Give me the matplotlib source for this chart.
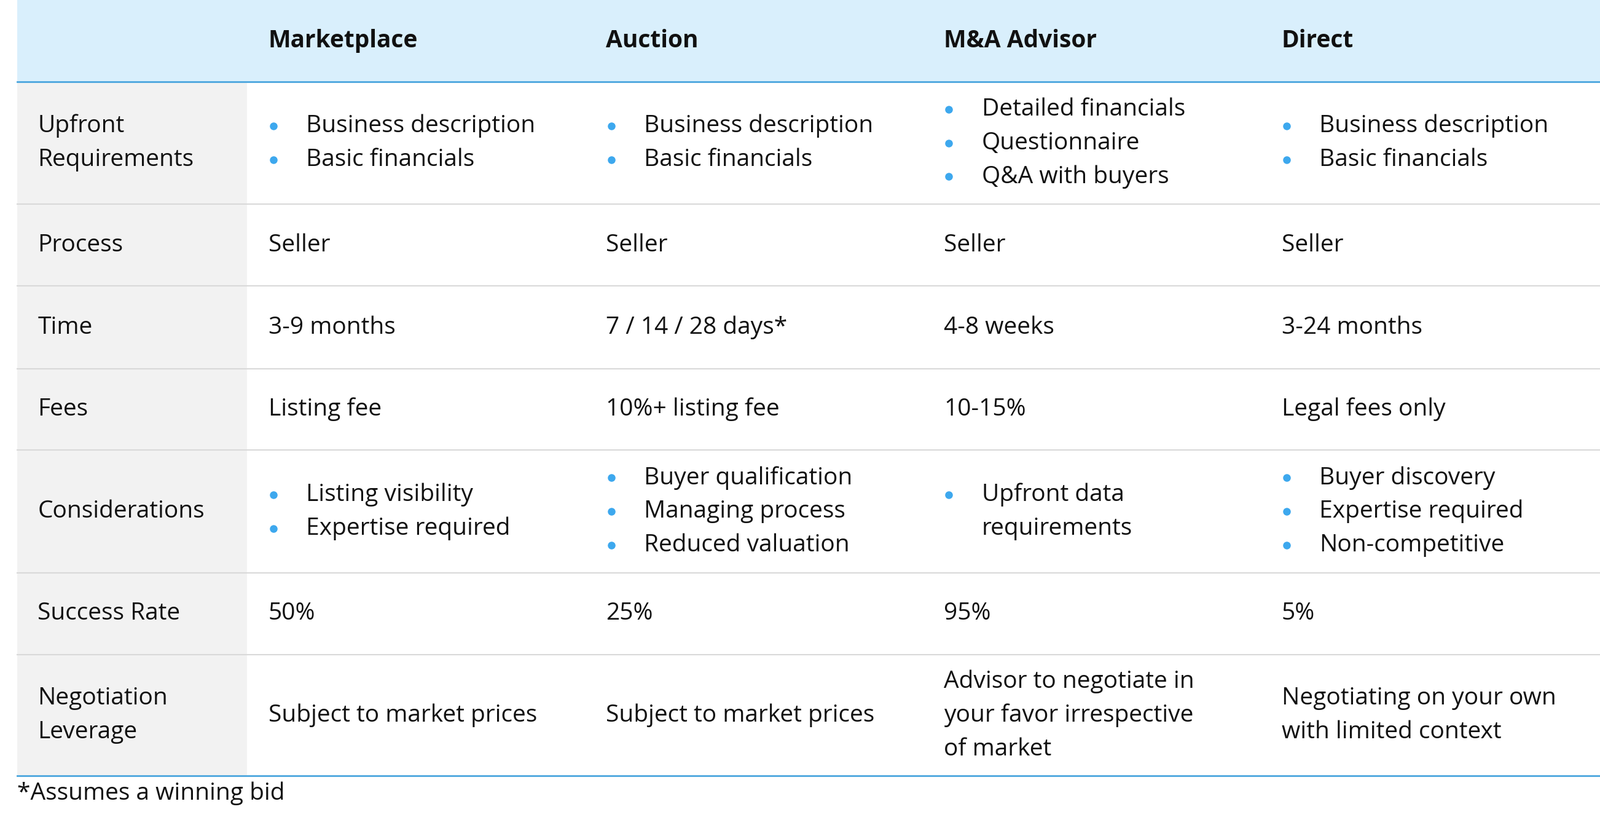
import matplotlib
matplotlib.use("Agg")
import matplotlib.pyplot as plt
from matplotlib.patches import Rectangle

columns = ["Marketplace", "Auction", "M&A Advisor", "Direct"]
row_labels = ["Upfront\nRequirements", "Process", "Time", "Fees", "Considerations",
              "Success Rate", "Negotiation\nLeverage"]
# each cell: list -> bullets, str -> plain text
cells = [
    [["Business description", "Basic financials"], ["Business description", "Basic financials"],
     ["Detailed financials", "Questionnaire", "Q&A with buyers"], ["Business description", "Basic financials"]],
    ["Seller", "Seller", "Seller", "Seller"],
    ["3-9 months", "7 / 14 / 28 days*", "4-8 weeks", "3-24 months"],
    ["Listing fee", "10%+ listing fee", "10-15%", "Legal fees only"],
    [["Listing visibility", "Expertise required"], ["Buyer qualification", "Managing process", "Reduced valuation"],
     ["Upfront data\nrequirements"], ["Buyer discovery", "Expertise required", "Non-competitive"]],
    ["50%", "25%", "95%", "5%"],
    ["Subject to market prices", "Subject to market prices",
     "Advisor to negotiate in\nyour favor irrespective\nof market", "Negotiating on your own\nwith limited context"],
]
footnote = "*Assumes a winning bid"

row_edges = [80, 200, 280, 361, 441, 561, 641, 760]
col_x = [263, 594, 925, 1256]
W, H = 1568, 811
FONT = "Open Sans"
FS = 28
LH = 33

fig = plt.figure(figsize=(26.04, 13.47), dpi=100)
ax = fig.add_axes([0, 0, 1, 1])
ax.set_xlim(0, W); ax.set_ylim(H, 0); ax.axis("off")

ax.add_patch(Rectangle((17, 0), W - 17, 80, color="#D9EFFC", lw=0))
ax.add_patch(Rectangle((17, 80), 225, 680, color="#F2F2F2", lw=0))
for name, x in zip(columns, col_x):
    ax.text(x, 40, name, fontsize=FS, fontweight="bold", family=FONT, va="center", color="#111")
for i, y in enumerate(row_edges):
    if i in (0, len(row_edges) - 1):
        ax.plot([17, W], [y, y], color="#4BA6DE", lw=2)
    else:
        ax.plot([17, W], [y, y], color="#D9D9D9", lw=1.5)

def multiline(x, yc, text):
    parts = text.split("\n")
    n = len(parts)
    for k, t in enumerate(parts):
        ax.text(x, yc + (k - (n - 1) / 2) * LH, t, fontsize=FS, family=FONT, va="center", color="#111")

for r, (lab, row) in enumerate(zip(row_labels, cells)):
    yc = (row_edges[r] + row_edges[r + 1]) / 2
    multiline(37, yc, lab)
    for x, cell in zip(col_x, row):
        if isinstance(cell, list):
            lines = []
            for b in cell:
                parts = b.split("\n")
                lines.append((True, parts[0]))
                lines += [(False, p) for p in parts[1:]]
            n = len(lines)
            for k, (bul, t) in enumerate(lines):
                y = yc + (k - (n - 1) / 2) * LH
                if bul:
                    ax.plot(x + 5, y, "o", color="#3DA8EE", ms=8)
                ax.text(x + 37, y, t, fontsize=FS, family=FONT, va="center", color="#111")
        else:
            multiline(x, yc, cell)

ax.text(17, 777, footnote, fontsize=FS, family=FONT, va="center", color="#111")
fig.savefig("out.png", dpi=100, facecolor="white")
